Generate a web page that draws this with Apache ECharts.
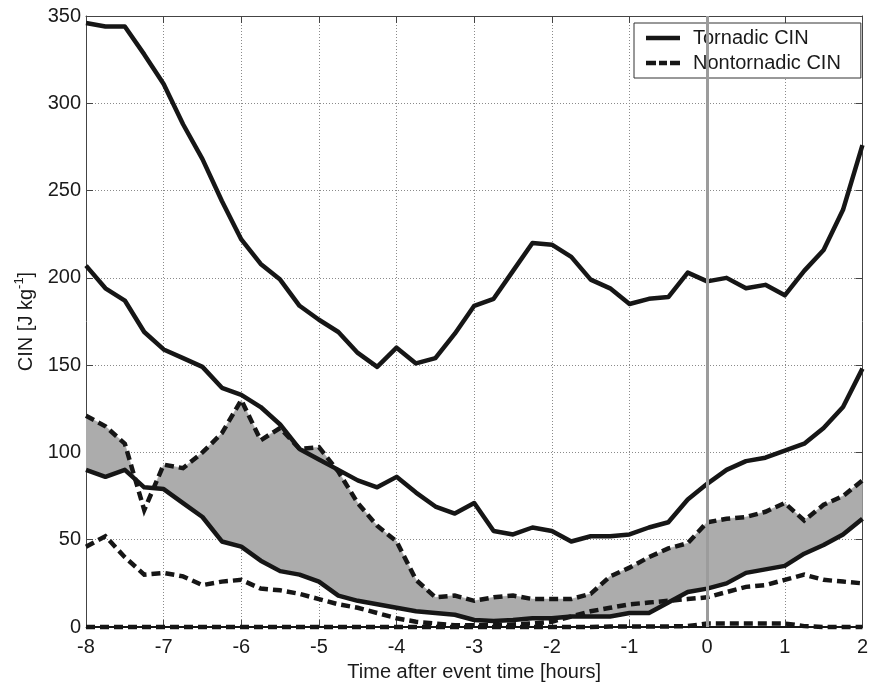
<!DOCTYPE html>
<html>
<head>
<meta charset="utf-8">
<script src="https://cdn.jsdelivr.net/npm/echarts@6/dist/echarts.min.js"></script>
<style>
html, body { margin: 0; padding: 0; background: #fff; }
#chart { width: 871px; height: 687px; }
</style>
</head>
<body>
<div id="chart"></div>
<script>
// Time relative to the event, in hours (15-minute steps)
const hours = [-8, -7.75, -7.5, -7.25, -7, -6.75, -6.5, -6.25, -6, -5.75, -5.5, -5.25, -5,
  -4.75, -4.5, -4.25, -4, -3.75, -3.5, -3.25, -3, -2.75, -2.5, -2.25, -2, -1.75, -1.5, -1.25,
  -1, -0.75, -0.5, -0.25, 0, 0.25, 0.5, 0.75, 1, 1.25, 1.5, 1.75, 2];

// Tornadic CIN distribution (J/kg)
const tornadicTop = [346, 344, 344, 328, 311, 288, 268, 244, 222, 208, 199, 184, 176,
  169, 157, 149, 160, 151, 154, 168, 184, 188, 204, 220, 219, 212, 199, 194,
  185, 188, 189, 203, 198, 200, 194, 196, 190, 204, 216, 239, 276];
const tornadicHigh = [207, 194, 187, 169, 159, 154, 149, 137, 133, 126, 116, 102, 96,
  90, 84, 80, 86, 77, 69, 65, 71, 55, 53, 57, 55, 49, 52, 52,
  53, 57, 60, 73, 82, 90, 95, 97, 101, 105, 114, 126, 148];
const tornadicMid = [90, 86, 90, 80, 79, 71, 63, 49, 46, 38, 32, 30, 26,
  18, 15, 13, 11, 9, 8, 7, 4, 3.5, 4, 5, 5, 6, 6, 6,
  8, 8, 14, 20, 22, 25, 31, 33, 35, 42, 47, 53, 62];
const tornadicLow = [0, 0, 0, 0, 0, 0, 0, 0, 0, 0, 0, 0, 0,
  0, 0, 0, 0, 0, 0, 0, 0, 0, 0, 0, 0, 0, 0, 0,
  0, 0, 0, 0, 0, 0, 0, 0, 0, 0, 0, 0, 0];

// Nontornadic CIN distribution (J/kg)
const nontornadicHigh = [121, 115, 105, 67, 93, 91, 100, 111, 130, 107, 114, 102, 103,
  89, 71, 58, 49, 27, 17, 18, 15, 17, 18, 16, 16, 16, 19, 29,
  34, 40, 45, 48, 60, 62, 63, 66, 71, 61, 70, 75, 84];
const nontornadicMid = [46, 52, 40, 30, 31, 29, 24, 26, 27, 22, 21, 19, 16,
  13, 11, 8, 5, 3, 2, 1, 1, 1, 1.5, 2, 3, 6, 9, 11,
  13, 14, 15, 16, 17, 20, 23, 24, 27, 30, 27, 26, 25];
const nontornadicLow = [0, 0, 0, 0, 0, 0, 0, 0, 0, 0, 0, 0, 0,
  0, 0, 0, 0, 0, 0, 0, 0, 0, 0, 0, 0, 0, 0, 0.3,
  0.3, 0.3, 0.3, 0.5, 2, 2, 2, 2, 2, 0.5, 0, 0, 0];

const TORNADIC = 'Tornadic CIN';
const NONTORNADIC = 'Nontornadic CIN';
const INK = '#161616';
const SHADE = '#acacac';
const FONT = '"Liberation Sans", Arial, Helvetica, sans-serif';

// Legend samples: a solid bar and three short dashes
const SOLID_ICON = 'path://M0,0H34V4.5H0Z';
const DASHED_ICON = 'path://M0,0H10V4.5H0Z M13,0H21V4.5H13Z M24,0H34V4.5H24Z';

const pairs = arr => hours.map((h, i) => [h, arr[i]]);

// Gray band wherever the upper nontornadic curve lies above the median tornadic curve
function renderBand(params, api) {
  const polys = [];
  let upper = [], lower = [];
  const pt = (t, v) => api.coord([t, v]);
  for (let i = 0; i < hours.length; i++) {
    const d = nontornadicHigh[i] - tornadicMid[i];
    if (i > 0) {
      const dp = nontornadicHigh[i - 1] - tornadicMid[i - 1];
      if ((dp > 0) !== (d > 0)) {
        const f = dp / (dp - d);
        const tc = hours[i - 1] + f * (hours[i] - hours[i - 1]);
        const vc = tornadicMid[i - 1] + f * (tornadicMid[i] - tornadicMid[i - 1]);
        const c = pt(tc, vc);
        upper.push(c);
        if (dp > 0) {
          polys.push(upper.concat(lower.slice().reverse()));
          upper = []; lower = [];
        }
      }
    }
    if (d > 0) {
      upper.push(pt(hours[i], nontornadicHigh[i]));
      lower.push(pt(hours[i], tornadicMid[i]));
    }
  }
  if (upper.length) polys.push(upper.concat(lower.slice().reverse()));
  return {
    type: 'group',
    children: polys.map(p => ({ type: 'polygon', shape: { points: p }, style: { fill: SHADE, stroke: SHADE, lineWidth: 0.5 } }))
  };
}

const solid = { color: INK, width: 4.5, type: 'solid', join: 'round', cap: 'butt' };
const dashed = { color: INK, width: 4.5, type: [9, 5], join: 'miter', cap: 'butt' };

function lineSeries(name, arr, style) {
  return {
    name: name, type: 'line', data: pairs(arr), symbol: 'none', showSymbol: false,
    lineStyle: style, itemStyle: { color: INK }, clip: false, z: 3,
    emphasis: { disabled: true }, animation: false
  };
}

const chart = echarts.init(document.getElementById('chart'), null, { renderer: 'canvas' });

chart.setOption({
  animation: false,
  backgroundColor: '#fff',
  textStyle: { fontFamily: FONT },
  grid: { left: 86, right: 2, top: 16, bottom: 54, containLabel: false },
  legend: {
    data: [
      { name: TORNADIC, icon: SOLID_ICON },
      { name: NONTORNADIC, icon: DASHED_ICON }
    ],
    orient: 'vertical',
    left: 634, top: 23,
    padding: [5, 20, 5, 12],
    itemGap: 5,
    itemWidth: 34, itemHeight: 4.5,
    symbolKeepAspect: false,
    backgroundColor: '#fff',
    borderColor: '#333', borderWidth: 1,
    selectedMode: false,
    itemStyle: { color: INK, borderWidth: 0 },
    textStyle: { fontSize: 20, color: '#1a1a1a', fontFamily: FONT, padding: [0, 0, 0, 8] }
  },
  xAxis: [{
    type: 'value', min: -8, max: 2, interval: 1,
    name: 'Time after event time [hours]', nameLocation: 'middle', nameGap: 35,
    nameTextStyle: { fontSize: 20, color: '#1a1a1a', fontFamily: FONT },
    axisLine: { show: true, onZero: false, lineStyle: { color: '#444', width: 1 } },
    axisTick: { show: true, inside: true, length: 7, lineStyle: { color: '#444' } },
    axisLabel: { fontSize: 20, color: '#1a1a1a', margin: 10, fontFamily: FONT },
    splitLine: { show: true, lineStyle: { color: '#8a8a8a', width: 1, type: [1, 2] } }
  }, {
    type: 'value', min: -8, max: 2, interval: 1, position: 'top',
    axisLine: { show: true, onZero: false, lineStyle: { color: '#444', width: 1 } },
    axisTick: { show: true, inside: true, length: 7, lineStyle: { color: '#444' } },
    axisLabel: { show: false }, splitLine: { show: false }
  }],
  yAxis: [{
    type: 'value', min: 0, max: 350, interval: 50,
    name: '{b|CIN [J kg}{sup|-1}{b|]}', nameLocation: 'middle', nameGap: 37,
    nameTextStyle: {
      fontSize: 20, color: '#1a1a1a', fontFamily: FONT,
      rich: {
        b: { fontSize: 20, lineHeight: 28, color: '#1a1a1a', fontFamily: FONT },
        sup: { fontSize: 13, lineHeight: 12, verticalAlign: 'top', color: '#1a1a1a', fontFamily: FONT }
      }
    },
    axisLine: { show: true, onZero: false, lineStyle: { color: '#444', width: 1 } },
    axisTick: { show: true, inside: true, length: 7, lineStyle: { color: '#444' } },
    axisLabel: { fontSize: 20, color: '#1a1a1a', margin: 5, fontFamily: FONT },
    splitLine: { show: true, lineStyle: { color: '#8a8a8a', width: 1, type: [1, 2] } }
  }, {
    type: 'value', min: 0, max: 350, interval: 50, position: 'right',
    axisLine: { show: true, onZero: false, lineStyle: { color: '#444', width: 1 } },
    axisTick: { show: true, inside: true, length: 7, lineStyle: { color: '#444' } },
    axisLabel: { show: false }, splitLine: { show: false }
  }],
  series: [
    {
      name: 'band', type: 'custom', renderItem: renderBand,
      data: [[hours[0], 0]], clip: true, z: 1, silent: true,
      markLine: {
        silent: true, symbol: 'none', label: { show: false },
        lineStyle: { color: '#9c9c9c', width: 3, type: 'solid' },
        data: [{ xAxis: 0 }], animation: false
      }
    },
    lineSeries(TORNADIC, tornadicTop, solid),
    lineSeries(TORNADIC, tornadicHigh, solid),
    lineSeries(TORNADIC, tornadicMid, solid),
    lineSeries(TORNADIC, tornadicLow, Object.assign({}, solid, { width: 2 })),
    lineSeries(NONTORNADIC, nontornadicHigh, dashed),
    lineSeries(NONTORNADIC, nontornadicMid, dashed),
    lineSeries(NONTORNADIC, nontornadicLow, dashed)
  ]
});
</script>
</body>
</html>
